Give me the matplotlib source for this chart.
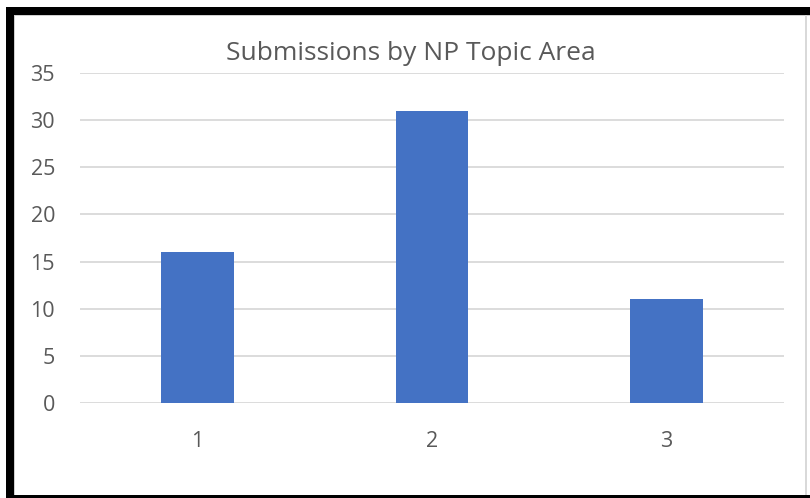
import matplotlib
matplotlib.use("Agg")
from matplotlib import pyplot as plt
from matplotlib.patches import Rectangle

categories = ['1', '2', '3']
submissions = [16, 31, 11]

plt.rcParams['font.family'] = ['Open Sans', 'DejaVu Sans']
text_col = '#595959'
W, H = 810, 498

fig = plt.figure(figsize=(8.1, 4.98), dpi=100)
ax = fig.add_axes([80 / W, 1 - 403 / H, (784 - 80) / W, (403 - 73) / H])

x = range(len(categories))
ax.bar(x, submissions, width=0.31, color='#4472C4', zorder=3)

ax.set_xlim(-0.5, 2.5)
ax.set_ylim(0, 35)
ax.set_yticks(range(0, 36, 5))
ax.set_xticks(list(x))
ax.set_xticklabels(categories)
ax.grid(axis='y', color='#D9D9D9', linewidth=1.3, zorder=0)
ax.set_axisbelow(True)
for s in ax.spines.values():
    s.set_visible(False)
ax.tick_params(length=0, labelsize=15.5, labelcolor=text_col)
ax.tick_params(axis='y', pad=18)
ax.tick_params(axis='x', pad=20)

fig.text(411 / W, 1 - 54 / H, 'Submissions by NP Topic Area', ha='center', va='center',
         fontsize=19, color=text_col)

# frame around the screenshot
def box(x0, y0, x1, y1, col):
    fig.add_artist(Rectangle((x0 / W, 1 - y1 / H), (x1 - x0) / W, (y1 - y0) / H,
                             transform=fig.transFigure, color=col, lw=0))

box(6, 7, 14, 498, 'black')
box(6, 7, 810, 15, 'black')
box(6, 495, 810, 498, 'black')
box(14, 15, 810, 16, '#D0D0D0')
box(14, 15, 15, 495, '#D0D0D0')
box(805, 15, 807, 495, '#D9D9D9')

fig.savefig('out.png', dpi=100)
